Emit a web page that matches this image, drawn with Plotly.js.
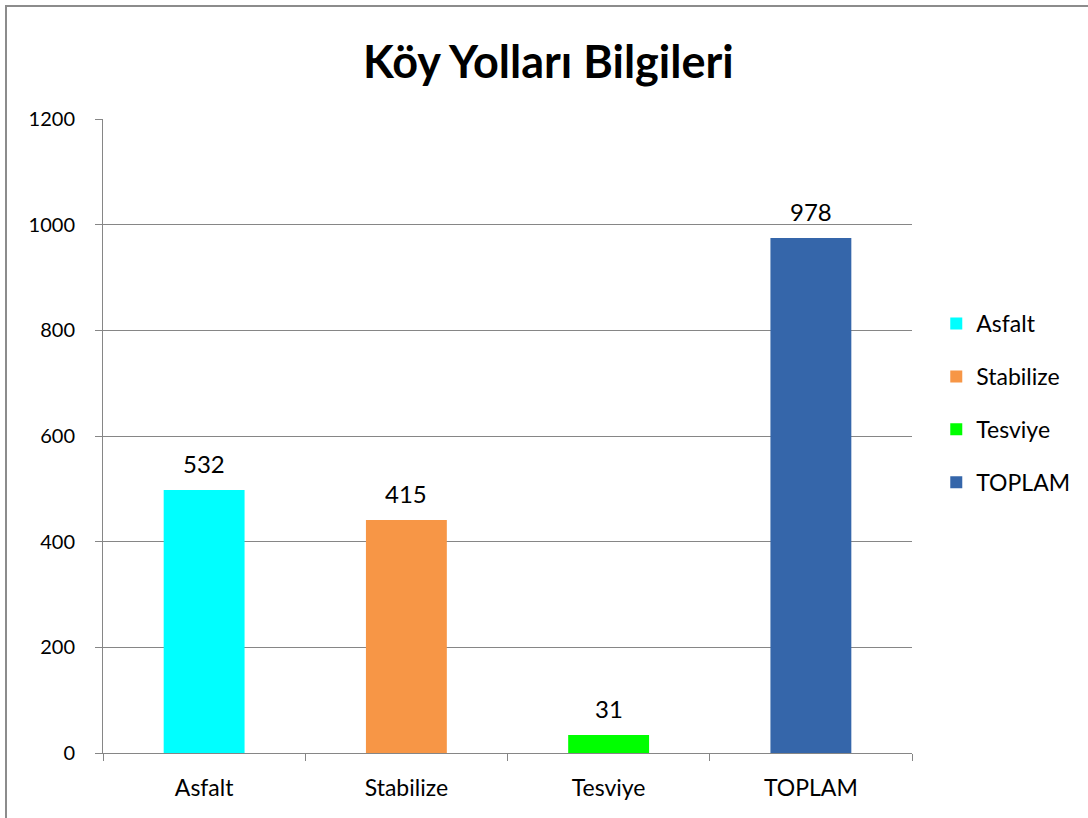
<!DOCTYPE html>
<html>
<head>
<meta charset="utf-8">
<script src="https://cdn.plot.ly/plotly-3.0.1.min.js"></script>
<style>
  html, body { margin: 0; padding: 0; background: #fff; }
  #frame { position: absolute; left: 5px; top: 5px; width: 1100px; height: 830px;
           border-left: 2px solid #8c8c8c; border-top: 2px solid #8c8c8c; }
  #chart { position: absolute; left: 0; top: 0; width: 1088px; height: 818px; }
</style>
</head>
<body>
<div id="frame"></div>
<div id="chart"></div>
<script>
// categories / values
const categories = ['Asfalt', 'Stabilize', 'Tesviye', 'TOPLAM']
const barHeights = [498, 441, 34, 975]      // bar tops as drawn
const labelTexts = ['532', '415', '31', '978'] // data labels as printed
const barColors = ['#00ffff', '#f79646', '#00ff00', '#3566aa']
const yTicks = [0, 200, 400, 600, 800, 1000, 1200]

const Plotly = window.Plotly
const font = 'Lato, "Open Sans", sans-serif'

let traces = []
let labels = []
categories.forEach((cat, i) => {
  traces.push({
    type: 'bar',
    name: cat,
    legendgroup: cat,
    x: [cat],
    y: [barHeights[i]],
    width: 0.4,
    marker: {color: barColors[i], line: {width: 0}},
    hoverinfo: 'x+y',
  })
  labels.push({
    x: cat,
    y: barHeights[i],
    text: labelTexts[i],
    showarrow: false,
    yanchor: 'bottom',
    yshift: 10,
    font: {family: font, size: 24, color: '#000'},
  })
})

const layout = {
  width: 1088,
  height: 818,
  paper_bgcolor: 'rgba(0,0,0,0)',
  plot_bgcolor: 'rgba(0,0,0,0)',
  margin: {l: 103, r: 176, t: 119, b: 65, autoexpand: false},
  barmode: 'overlay',
  showlegend: true,
  annotations: labels,
  title: {
    text: '<b>Köy Yolları Bilgileri</b>',
    font: {family: font, size: 45, color: '#000'},
    x: 0.504, xanchor: 'center',
    y: 0.924, yanchor: 'middle',
  },
  xaxis: {
    categoryorder: 'array',
    categoryarray: categories,
    tickson: 'boundaries',
    ticks: 'outside',
    ticklen: 7,
    tickcolor: '#868686',
    showline: true,
    linecolor: '#868686',
    linewidth: 1,
    showgrid: false,
    ticklabelstandoff: 14,
    tickfont: {family: font, size: 23, color: '#000'},
  },
  yaxis: {
    range: [0, 1200],
    tickvals: yTicks,
    ticks: 'outside',
    ticklen: 7,
    tickcolor: '#868686',
    showline: true,
    linecolor: '#868686',
    linewidth: 1,
    showgrid: true,
    gridcolor: '#868686',
    gridwidth: 1,
    zeroline: false,
    ticklabelstandoff: 16,
    tickfont: {family: font, size: 20, color: '#000'},
  },
  legend: {
    x: 1.03, xanchor: 'left',
    y: 0.552, yanchor: 'middle',
    traceorder: 'grouped',
    font: {family: font, size: 23, color: '#000'},
    tracegroupgap: 20,
    itemwidth: 30,
  },
}

Plotly.newPlot('chart', traces, layout, {staticPlot: true})
</script>
</body>
</html>
